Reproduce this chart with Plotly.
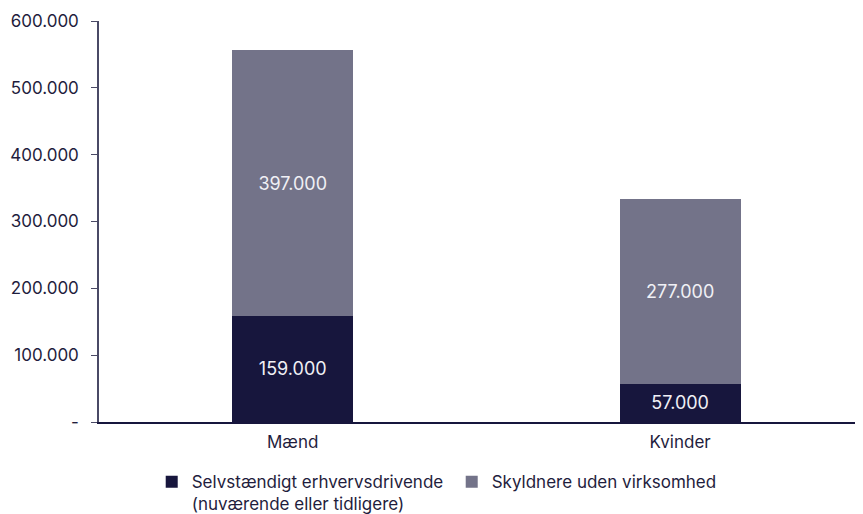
import plotly.graph_objects as go

categories = ["Mænd", "Kvinder"]
selvstaendige = [159000, 57000]
skyldnere = [397000, 277000]
series_names = ["Selvstændigt erhvervsdrivende<br>(nuværende eller tidligere)", "Skyldnere uden virksomhed"]
tick_vals = [0, 100000, 200000, 300000, 400000, 500000, 600000]
tick_text = ["-", "100.000", "200.000", "300.000", "400.000", "500.000", "600.000"]

def fmt(v):
    return f"{v:,}".replace(",", ".")

dark = "#17163d"
grey = "#737389"
font = "Inter, Open Sans, sans-serif"
txt = "#1f1d3d"

fig = go.Figure()
fig.add_trace(go.Bar(x=categories, y=selvstaendige, name=series_names[0], marker_color=dark,
                     marker_line_width=0,
                     width=0.312, text=[fmt(v) for v in selvstaendige], textposition="inside",
                     insidetextanchor="middle", textfont=dict(color="#f0f0f5", size=18, family=font)))
fig.add_trace(go.Bar(x=categories, y=skyldnere, name=series_names[1], marker_color=grey,
                     marker_line_width=0,
                     width=0.312, text=[fmt(v) for v in skyldnere], textposition="inside",
                     insidetextanchor="middle", textfont=dict(color="#f0f0f5", size=18, family=font)))

# page body has an 8px margin, so the figure is 855x506
fig.update_layout(
    barmode="stack",
    width=855, height=506,
    margin=dict(l=91, r=0, t=13, b=92, autoexpand=False),
    paper_bgcolor="white", plot_bgcolor="white",
    font=dict(family=font, size=17, color=txt),
    legend=dict(orientation="h", x=0.069, y=-0.105, xanchor="left", yanchor="top",
                font=dict(size=17, color=txt), itemwidth=30, tracegroupgap=0,
                traceorder="normal", valign="top",
                entrywidth=255, entrywidthmode="pixels"),
    xaxis=dict(range=[-0.5, 1.472], showline=True, linecolor=dark, linewidth=2,
               ticks="", showgrid=False, tickfont=dict(size=17), automargin=False,
               ticklabelstandoff=4),
    yaxis=dict(range=[0, 600000], tickvals=tick_vals, ticktext=tick_text, showline=True,
               linecolor="#4a4a66", linewidth=1.5, ticks="outside", ticklen=6, tickcolor="#4a4a66",
               showgrid=False, zeroline=False, tickfont=dict(size=17), ticklabelstandoff=9,
               automargin=False),
    uniformtext=dict(minsize=17, mode="show"),
)
fig.write_html("out.html")
